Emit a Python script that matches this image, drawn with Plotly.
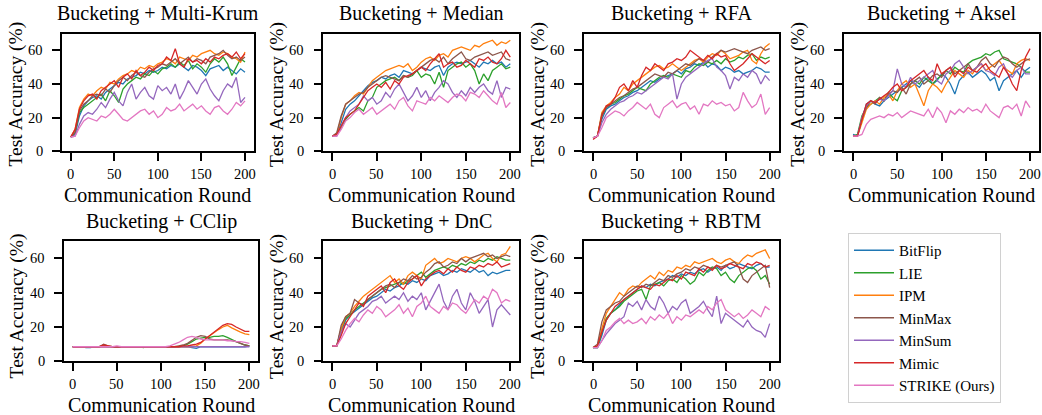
import plotly.graph_objects as go

rounds = list(range(0, 201, 5))

series_names = ["BitFlip", "LIE", "IPM", "MinMax", "MinSum", "Mimic", "STRIKE (Ours)"]
series_colors = ["#1f77b4", "#2ca02c", "#ff7f0e", "#8c564b", "#9467bd", "#d62728", "#e377c2"]
panel_titles = ["Bucketing + Multi-Krum", "Bucketing + Median", "Bucketing + RFA", "Bucketing + Aksel",
                "Bucketing + CClip", "Bucketing + DnC", "Bucketing + RBTM"]
x_label = "Communication Round"
y_label = "Test Accuracy (%)"
x_ticks = [0, 50, 100, 150, 200]
y_ticks = [0, 20, 40, 60]

# ---------------- Multi-Krum ----------------
mk_bitflip = [8.5, 10, 21, 27, 30, 32, 33, 31, 35, 37,
              39, 41, 40, 43, 44, 45, 47, 46, 48, 47,
              48, 50, 49, 51, 50, 52, 50, 48, 51, 50,
              48, 45, 49, 50, 51, 48, 50, 48, 46, 49,
              47]
mk_lie = [8.5, 11, 23, 26, 28, 30, 32, 34, 30, 36,
          33, 29, 37, 40, 42, 44, 43, 46, 45, 48,
          46, 49, 50, 52, 50, 53, 51, 54, 49, 52,
          50, 47, 52, 55, 53, 56, 52, 45, 50, 55,
          53]
mk_ipm = [8.5, 13, 26, 31, 34, 33, 36, 38, 37, 41,
          40, 43, 45, 46, 48, 47, 50, 49, 51, 50,
          52, 53, 55, 54, 52, 56, 55, 54, 57, 56,
          58, 59, 60, 58, 57, 59, 58, 56, 55, 53,
          59]
mk_minmax = [8.5, 11, 24, 28, 30, 33, 34, 33, 37, 35,
             39, 42, 44, 42, 45, 47, 45, 44, 47, 49,
             50, 52, 51, 53, 55, 52, 54, 56, 53, 55,
             54, 52, 56, 57, 58, 60, 57, 55, 56, 54,
             56]
mk_minsum = [8.5, 9, 16, 21, 23, 22, 25, 29, 26, 31,
             35, 30, 27, 35, 40, 31, 35, 38, 33, 31,
             39, 36, 38, 34, 40, 31, 36, 42, 38, 34,
             40, 43, 37, 33, 30, 36, 40, 38, 44, 29,
             32]
mk_mimic = [8.5, 13, 25, 30, 33, 34, 31, 36, 38, 40,
            42, 38, 44, 46, 43, 48, 45, 47, 50, 48,
            51, 52, 56, 54, 61, 52, 50, 55, 53, 54,
            52, 55, 53, 56, 55, 57, 58, 56, 59, 55,
            58]
mk_strike = [8.5, 9, 14, 18, 20, 19, 18, 21, 20, 22,
             25, 22, 19, 18, 20, 22, 24, 25, 22, 24,
             20, 22, 26, 24, 25, 28, 24, 26, 28, 25,
             27, 24, 22, 26, 27, 24, 22, 25, 29, 27,
             30]

# ---------------- Median ----------------
md_bitflip = [9, 10, 17, 25, 28, 30, 33, 36, 39, 41,
              42, 44, 43, 45, 46, 44, 48, 47, 46, 48,
              50, 49, 48, 50, 51, 45, 50, 52, 53, 52,
              53, 54, 52, 50, 53, 52, 54, 52, 53, 50,
              52]
md_lie = [9, 10, 14, 19, 22, 24, 26, 24, 30, 32,
          38, 40, 42, 43, 44, 42, 45, 44, 45, 48,
          44, 46, 45, 40, 47, 38, 48, 50, 52, 53,
          50, 52, 48, 40, 46, 42, 48, 50, 52, 49,
          50]
md_ipm = [9, 10, 20, 28, 30, 33, 35, 34, 38, 42,
          44, 46, 48, 49, 50, 51, 50, 52, 48, 50,
          53, 55, 56, 54, 57, 58, 56, 60, 61, 62,
          61, 60, 63, 62, 64, 65, 66, 63, 65, 64,
          66]
md_minmax = [9, 11, 21, 28, 30, 32, 34, 35, 38, 40,
             42, 44, 45, 44, 43, 42, 45, 44, 46, 48,
             50, 52, 54, 55, 53, 56, 52, 55, 57, 59,
             55, 54, 56, 57, 58, 59, 57, 58, 59, 55,
             54]
md_minsum = [9, 9, 15, 20, 24, 26, 28, 33, 30, 32,
             28, 30, 35, 32, 37, 40, 35, 30, 33, 38,
             32, 36, 30, 35, 38, 42, 40, 35, 32, 36,
             33, 38, 35, 38, 40, 36, 34, 42, 32, 38,
             37]
md_mimic = [9, 10, 15, 20, 22, 24, 28, 32, 36, 38,
            40, 38, 41, 37, 42, 40, 44, 45, 46, 48,
            50, 48, 52, 55, 58, 50, 52, 53, 50, 51,
            54, 52, 50, 55, 54, 56, 53, 52, 55, 60,
            56]
md_strike = [9, 9, 13, 18, 20, 23, 25, 22, 24, 26,
             22, 24, 26, 28, 25, 30, 32, 27, 24, 30,
             29, 28, 32, 30, 33, 31, 29, 32, 34, 33,
             30, 35, 34, 32, 36, 33, 30, 28, 35, 26,
             29]

# ---------------- RFA ----------------
rf_bitflip = [8, 9, 19, 25, 27, 28, 30, 32, 33, 35,
              36, 38, 40, 42, 41, 43, 44, 45, 46, 48,
              46, 49, 50, 52, 51, 53, 50, 52, 51, 48,
              50, 49, 47, 48, 46, 47, 48, 50, 49, 47,
              47]
rf_lie = [8, 9, 21, 26, 28, 29, 31, 33, 34, 36,
          38, 37, 36, 40, 42, 44, 45, 44, 46, 45,
          44, 48, 47, 50, 52, 51, 53, 52, 54, 52,
          55, 53, 54, 56, 55, 57, 58, 54, 56, 55,
          56]
rf_ipm = [8, 9, 23, 27, 29, 32, 34, 38, 36, 40,
          42, 44, 46, 48, 50, 51, 49, 50, 52, 50,
          48, 50, 52, 54, 55, 53, 56, 58, 57, 60,
          58, 55, 56, 57, 59, 60, 54, 52, 58, 62,
          64]
rf_minmax = [8, 9, 22, 26, 28, 30, 32, 33, 35, 37,
             38, 40, 42, 44, 46, 45, 44, 47, 46, 48,
             50, 52, 51, 53, 55, 54, 53, 56, 58, 60,
             59, 60, 61, 60, 59, 58, 60, 61, 62, 60,
             61]
rf_minsum = [8, 9, 17, 22, 25, 27, 29, 30, 32, 33,
             35, 34, 36, 38, 40, 42, 44, 43, 46, 31,
             40, 44, 46, 48, 50, 52, 54, 55, 50, 48,
             45, 37, 44, 42, 46, 44, 48, 46, 40, 45,
             42]
rf_mimic = [7, 9, 21, 27, 28, 32, 38, 40, 36, 42,
            38, 45, 50, 48, 52, 50, 48, 52, 53, 55,
            54, 56, 60, 58, 56, 54, 57, 55, 58, 56,
            57, 52, 48, 50, 52, 55, 58, 56, 54, 52,
            54]
rf_strike = [8, 9, 14, 20, 22, 24, 23, 21, 24, 26,
             29, 27, 25, 28, 22, 20, 26, 28, 30, 26,
             28, 29, 25, 27, 22, 28, 27, 30, 28, 29,
             27, 28, 24, 26, 35, 30, 26, 28, 34, 22,
             26]

# ---------------- Aksel ----------------
ak_bitflip = [10, 9, 19, 28, 30, 28, 27, 30, 32, 34,
              36, 38, 40, 42, 40, 38, 42, 44, 40, 42,
              46, 44, 40, 34, 42, 45, 47, 44, 46, 48,
              46, 42, 44, 36, 42, 44, 46, 48, 44, 48,
              50]
ak_lie = [9, 10, 21, 26, 28, 30, 32, 30, 35, 32,
          30, 36, 38, 40, 42, 40, 44, 42, 40, 43,
          45, 48, 46, 50, 48, 47, 52, 54, 55, 56,
          58, 57, 59, 60, 55, 54, 53, 52, 50, 47,
          47]
ak_ipm = [9, 9, 17, 25, 28, 30, 28, 32, 34, 30,
          36, 40, 42, 38, 40, 34, 27, 36, 40, 38,
          35, 40, 44, 48, 46, 44, 48, 46, 50, 52,
          48, 50, 52, 54, 50, 48, 46, 52, 54, 55,
          54]
ak_minmax = [9, 9, 19, 26, 30, 28, 32, 30, 34, 36,
             35, 38, 34, 40, 42, 44, 40, 42, 45, 46,
             44, 48, 50, 46, 48, 50, 52, 48, 50, 54,
             56, 52, 50, 54, 56, 55, 52, 50, 52, 54,
             55]
ak_minsum = [9, 9, 20, 27, 30, 29, 31, 30, 33, 36,
             49, 40, 38, 44, 40, 42, 44, 46, 48, 42,
             40, 46, 48, 52, 54, 50, 46, 48, 50, 52,
             48, 47, 45, 50, 52, 46, 44, 48, 50, 46,
             46]
ak_mimic = [9, 9, 19, 28, 30, 29, 31, 33, 35, 38,
            40, 36, 38, 42, 44, 46, 48, 44, 42, 52,
            46, 48, 50, 44, 48, 46, 50, 48, 47, 50,
            52, 48, 46, 44, 50, 46, 40, 36, 48, 56,
            61]
ak_strike = [9, 9, 10, 16, 19, 20, 21, 20, 22, 21,
             23, 20, 22, 24, 23, 22, 21, 25, 20, 26,
             23, 17, 24, 22, 25, 23, 26, 24, 25, 23,
             28, 24, 22, 20, 26, 27, 25, 28, 21, 30,
             26]

# ---------------- CClip ----------------
cc_bitflip = [8.5, 8.5, 8.5, 8.0, 8.0, 8.5, 8.5, 8.5, 8.5, 8.5,
              8.5, 8.5, 8.5, 8.5, 8.5, 8.5, 8.5, 8.5, 8.5, 8.5,
              8.5, 8.5, 8.5, 8.5, 8.5, 8.5, 8.5, 8.0, 7.5, 8.5,
              8.5, 8.5, 8.5, 8.5, 8.5, 8.5, 8.5, 8.5, 8.5, 8.5,
              9.0]
cc_lie = [8.5, 8.5, 8.5, 8.5, 8.5, 8.5, 8.5, 9.0, 8.5, 8.5,
          8.5, 8.5, 8.5, 8.5, 8.5, 8.5, 8.0, 8.5, 8.5, 8.5,
          8.5, 8.5, 8.5, 8.5, 8.5, 9.0, 10.0, 11.5, 13.0, 13.5,
          14.0, 14.0, 14.5, 14.5, 15.0, 14.0, 12.5, 11.5, 10.5, 9.5,
          9.0]
cc_ipm = [8.5, 8.5, 8.5, 8.5, 8.5, 8.5, 8.5, 8.5, 8.5, 8.5,
          8.5, 8.5, 8.5, 8.5, 8.5, 8.5, 8.5, 8.5, 8.5, 8.5,
          8.5, 8.5, 8.5, 8.5, 8.5, 8.5, 8.5, 8.5, 9.0, 10.5,
          13.0, 15.0, 17.0, 18.5, 20.0, 21.0, 19.5, 18.0, 17.0, 16.0,
          15.5]
cc_minmax = [8.5, 8.5, 8.5, 8.5, 8.5, 8.5, 8.5, 10.0, 9.0, 8.5,
             8.5, 8.5, 8.5, 8.5, 8.5, 8.5, 8.5, 8.5, 8.5, 8.5,
             8.5, 8.5, 8.5, 8.5, 9.0, 9.5, 10.5, 12.5, 14.0, 15.0,
             14.5, 13.0, 12.5, 12.5, 12.5, 12.5, 12.0, 11.5, 10.5, 9.5,
             9.0]
cc_minsum = [8.5, 8.5, 8.5, 8.5, 8.5, 8.5, 8.5, 8.5, 8.5, 8.5,
             8.5, 8.5, 8.5, 8.5, 8.5, 8.5, 8.5, 8.5, 8.5, 8.5,
             8.5, 8.5, 8.5, 8.5, 8.5, 8.5, 8.5, 8.5, 8.5, 8.5,
             8.5, 8.5, 8.5, 8.5, 8.5, 8.5, 8.5, 8.5, 8.5, 8.5,
             8.5]
cc_mimic = [8.5, 8.5, 8.5, 8.5, 8.5, 8.5, 8.5, 9.5, 9.0, 8.5,
            8.5, 8.5, 8.5, 8.5, 8.5, 8.5, 8.5, 8.5, 8.5, 8.5,
            8.5, 8.5, 8.5, 8.5, 8.5, 9.0, 9.0, 9.5, 10.0, 11.0,
            13.0, 15.5, 17.5, 19.5, 21.0, 22.0, 21.5, 20.0, 18.5, 17.5,
            17.5]
cc_strike = [8.5, 8.5, 8.5, 8.5, 8.5, 8.5, 8.5, 8.5, 8.5, 8.5,
             9.0, 8.5, 8.5, 8.5, 8.5, 8.5, 8.5, 8.5, 8.5, 8.5,
             8.5, 8.5, 9.0, 10.0, 11.0, 12.5, 14.0, 14.5, 14.0, 13.0,
             12.5, 12.5, 12.5, 12.5, 12.5, 12.0, 12.0, 11.5, 11.5, 11.0,
             10.5]

# ---------------- DnC ----------------
dn_bitflip = [9, 9, 17, 24, 27, 29, 31, 33, 35, 37,
              38, 40, 42, 41, 43, 44, 46, 45, 47, 46,
              48, 47, 50, 51, 52, 50, 51, 53, 52, 54,
              53, 52, 54, 52, 53, 50, 52, 51, 52, 53,
              53]
dn_lie = [9, 9, 19, 25, 27, 30, 32, 34, 36, 38,
          40, 42, 43, 44, 45, 46, 45, 47, 48, 50,
          52, 49, 51, 53, 54, 55, 54, 56, 55, 57,
          56, 58, 57, 59, 58, 60, 59, 61, 60, 59,
          59]
dn_ipm = [9, 9, 19, 26, 28, 32, 35, 38, 40, 42,
          44, 46, 48, 50, 46, 48, 45, 50, 52, 50,
          48, 56, 58, 60, 57, 58, 60, 59, 58, 60,
          61, 60, 58, 60, 62, 63, 60, 58, 62, 63,
          67]
dn_minmax = [9, 9, 21, 26, 28, 36, 34, 33, 36, 38,
             40, 42, 44, 45, 43, 46, 48, 47, 50, 48,
             49, 52, 54, 57, 58, 55, 56, 58, 57, 60,
             58, 60, 61, 62, 63, 61, 62, 60, 61, 62,
             61]
dn_minsum = [9, 9, 17, 22, 20, 24, 28, 30, 32, 35,
             36, 38, 34, 36, 38, 36, 40, 35, 38, 36,
             40, 30, 35, 40, 45, 35, 30, 38, 42, 34,
             30, 40, 35, 28, 32, 36, 20, 30, 33, 30,
             27]
dn_mimic = [9, 9, 15, 22, 26, 30, 34, 32, 38, 40,
            42, 44, 40, 46, 48, 44, 42, 46, 48, 50,
            44, 48, 50, 52, 53, 51, 54, 52, 55, 53,
            52, 55, 54, 56, 55, 57, 56, 58, 55, 56,
            57]
dn_strike = [9, 9, 13, 18, 22, 25, 23, 27, 30, 28,
             32, 30, 26, 28, 30, 33, 28, 31, 26, 32,
             34, 38, 32, 30, 28, 32, 30, 34, 33, 30,
             28, 32, 36, 34, 38, 36, 42, 40, 34, 36,
             35]

# ---------------- RBTM ----------------
rb_bitflip = [8, 8, 15, 24, 28, 30, 33, 36, 38, 40,
              42, 44, 43, 45, 44, 46, 47, 48, 50, 49,
              51, 50, 52, 51, 53, 54, 52, 54, 55, 53,
              56, 54, 55, 57, 56, 55, 54, 56, 57, 55,
              55]
rb_lie = [8, 8, 17, 25, 28, 30, 32, 35, 37, 39,
          41, 42, 36, 44, 45, 46, 44, 47, 48, 46,
          50, 48, 45, 47, 52, 50, 53, 55, 54, 50,
          52, 48, 46, 50, 52, 54, 55, 53, 48, 50,
          45]
rb_ipm = [8, 9, 19, 28, 32, 36, 40, 38, 42, 44,
          43, 46, 48, 50, 48, 52, 50, 53, 52, 55,
          54, 56, 55, 58, 57, 58, 59, 60, 58, 57,
          59, 60, 58, 57, 60, 62, 61, 63, 64, 65,
          60]
rb_minmax = [8, 10, 23, 30, 32, 34, 35, 38, 40, 42,
             44, 43, 45, 44, 46, 48, 47, 50, 49, 51,
             52, 54, 53, 55, 54, 56, 55, 54, 56, 55,
             56, 57, 58, 55, 48, 46, 50, 52, 54, 56,
             43]
rb_minsum = [8, 8, 12, 16, 19, 22, 24, 26, 34, 32,
             35, 30, 36, 32, 30, 38, 34, 28, 32, 30,
             34, 36, 28, 30, 32, 35, 30, 26, 38, 22,
             28, 26, 24, 22, 20, 24, 20, 18, 17, 14,
             22]
rb_mimic = [8, 9, 17, 24, 28, 32, 34, 36, 38, 40,
            42, 44, 43, 42, 45, 44, 46, 48, 47, 50,
            48, 52, 51, 50, 54, 52, 55, 53, 56, 54,
            55, 57, 56, 55, 54, 57, 56, 58, 57, 55,
            56]
rb_strike = [8, 8, 12, 18, 20, 23, 25, 22, 24, 22,
             23, 25, 22, 26, 24, 27, 25, 28, 22, 26,
             24, 27, 26, 28, 30, 28, 32, 30, 34, 36,
             30, 28, 26, 28, 25, 27, 30, 28, 26, 32,
             30]

panels = [
    [mk_bitflip, mk_lie, mk_ipm, mk_minmax, mk_minsum, mk_mimic, mk_strike],
    [md_bitflip, md_lie, md_ipm, md_minmax, md_minsum, md_mimic, md_strike],
    [rf_bitflip, rf_lie, rf_ipm, rf_minmax, rf_minsum, rf_mimic, rf_strike],
    [ak_bitflip, ak_lie, ak_ipm, ak_minmax, ak_minsum, ak_mimic, ak_strike],
    [cc_bitflip, cc_lie, cc_ipm, cc_minmax, cc_minsum, cc_mimic, cc_strike],
    [dn_bitflip, dn_lie, dn_ipm, dn_minmax, dn_minsum, dn_mimic, dn_strike],
    [rb_bitflip, rb_lie, rb_ipm, rb_minmax, rb_minsum, rb_mimic, rb_strike],
]

# ---------------- layout (pixel geometry of the 1042x415 canvas) ----------------
W, H = 1042, 415
x_doms_px = [(62, 253.7), (323.4, 519.2), (584.2, 778.5), (844.2, 1038.9),
             (63.9, 258.2), (323.4, 519.2), (584.2, 778.5)]
y_doms_px = [(33.5, 151.3)] * 4 + [(241.3, 361.3)] * 3
ylabel_center_px = [94] * 4 + [306] * 3

FONT = "Liberation Serif"
TICK_FONT = dict(family=FONT, size=14.5, color="black")

fig = go.Figure()
layout = dict(
    width=W, height=H,
    margin=dict(l=0, r=0, t=0, b=0),
    paper_bgcolor="white", plot_bgcolor="white",
    font=dict(family=FONT, color="black"),
    showlegend=True,
    legend=dict(
        x=848 / W, y=1 - 233 / H, xanchor="left", yanchor="top",
        bgcolor="white", bordercolor="#d0d0d0", borderwidth=1,
        font=dict(family=FONT, size=15, color="black"),
        tracegroupgap=0, itemwidth=40,
    ),
)
annotations = []
for p in range(7):
    xa = "x" if p == 0 else f"x{p + 1}"
    ya = "y" if p == 0 else f"y{p + 1}"
    for s, vals in enumerate(panels[p]):
        fig.add_trace(go.Scatter(
            x=rounds, y=vals, mode="lines",
            line=dict(color=series_colors[s], width=1.3),
            name=series_names[s], legendgroup=series_names[s],
            showlegend=(p == 0), xaxis=xa, yaxis=ya,
        ))
    x0, x1 = x_doms_px[p]
    yt, yb = y_doms_px[p]
    key = "" if p == 0 else str(p + 1)
    common = dict(showline=True, mirror=True, linecolor="black", linewidth=1.7,
                  ticks="outside", ticklen=8, tickwidth=1.6, tickcolor="black",
                  showgrid=False, zeroline=False, showticklabels=False)
    layout["xaxis" + key] = dict(
        domain=[x0 / W, x1 / W], anchor=ya, range=[-10, 210],
        tickvals=x_ticks, **common)
    layout["yaxis" + key] = dict(
        domain=[1 - yb / H, 1 - yt / H], anchor=xa, range=[0, 70],
        tickvals=y_ticks, **common)
    # tick labels (placed through the axes' own data scales)
    for v in x_ticks:
        annotations.append(dict(
            text=str(v), xref=xa, yref="paper", x=v, y=1 - yb / H,
            xanchor="center", yanchor="middle", yshift=-23, borderpad=0,
            showarrow=False, font=TICK_FONT))
    for v in y_ticks:
        annotations.append(dict(
            text=str(v), xref="paper", yref=ya, x=x0 / W, y=v,
            xanchor="right", yanchor="middle", xshift=-18, borderpad=0,
            showarrow=False, font=TICK_FONT))
    # panel title
    annotations.append(dict(
        text=panel_titles[p], xref="paper", yref="paper",
        x=(x0 + x1) / 2 / W, y=1 - yt / H, xanchor="center", yanchor="bottom",
        yshift=6, showarrow=False, font=dict(family=FONT, size=20, color="black")))
    # x-axis title
    annotations.append(dict(
        text=x_label, xref="paper", yref="paper",
        x=(x0 + x1) / 2 / W, y=1 - (yb + 44) / H, xanchor="center", yanchor="middle",
        borderpad=0, showarrow=False, font=dict(family=FONT, size=20, color="black")))
    # y-axis title
    annotations.append(dict(
        text=y_label, xref="paper", yref="paper", textangle=-90,
        x=(x0 - 46.5) / W, y=1 - ylabel_center_px[p] / H, xanchor="center", yanchor="middle",
        borderpad=0, showarrow=False, font=dict(family=FONT, size=19.5, color="black")))

layout["annotations"] = annotations
fig.update_layout(**layout)
fig.write_html("out.html", config={"displayModeBar": False},
               post_script="document.body.style.margin='0';document.body.style.overflow='hidden';")
